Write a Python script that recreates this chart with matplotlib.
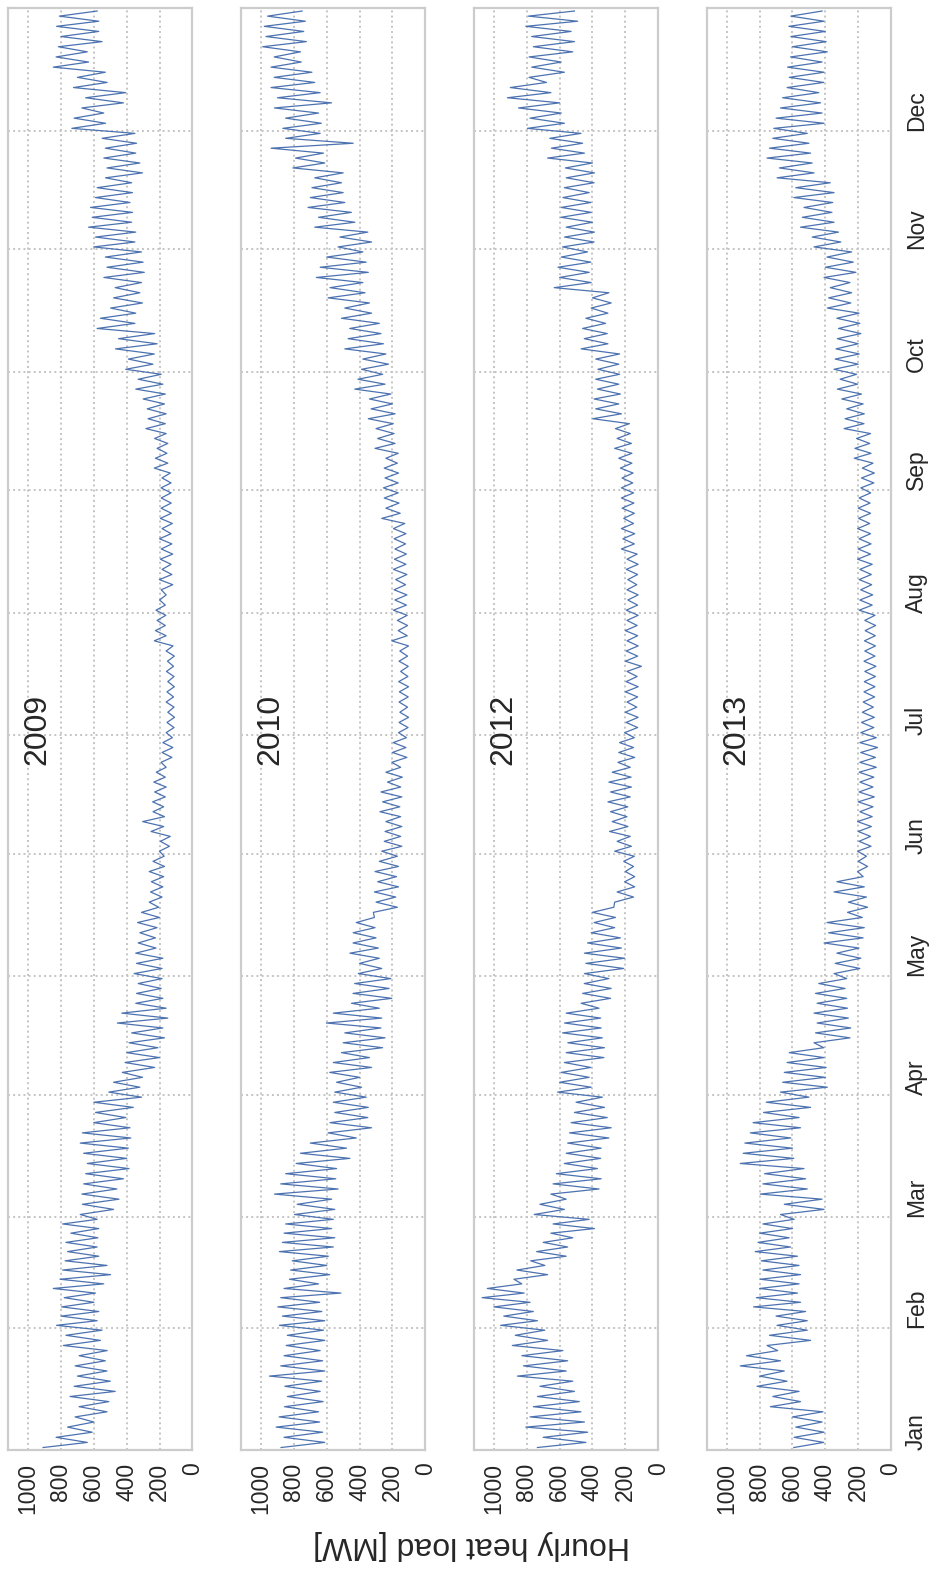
import numpy as np
import matplotlib.pyplot as plt

plt.rcParams['font.family'] = ['Liberation Sans', 'DejaVu Sans']
plt.rcParams['text.color'] = '#262626'

years = ['2009', '2010', '2012', '2013']
month_names = ['Jan', 'Feb', 'Mar', 'Apr', 'May', 'Jun',
               'Jul', 'Aug', 'Sep', 'Oct', 'Nov', 'Dec']
month_days = [31, 28, 31, 30, 31, 30, 31, 31, 30, 31, 30, 31]
load_ticks = [0, 200, 400, 600, 800, 1000]

# heat load, 24 values per month (alternating peak / trough)
load_2009 = [
    909, 640, 830, 610, 760, 600, 714, 520, 690, 509, 745, 470, 720, 500, 700, 520, 714, 530, 690, 519, 786, 560, 770, 550,
    827, 580, 800, 570, 796, 600, 780, 590, 847, 540, 806, 498, 790, 520, 775, 570, 760, 580, 770, 575, 740, 570, 790, 580,
    683, 480, 670, 447, 673, 460, 662, 420, 650, 386, 640, 400, 662, 390, 683, 375, 670, 380, 601, 406, 590, 360, 600, 310,
    509, 320, 480, 304, 427, 230, 410, 201, 400, 210, 386, 170, 370, 180, 457, 150, 430, 160, 345, 180, 340, 190, 330, 185,
    355, 185, 340, 180, 345, 222, 330, 225, 320, 215, 334, 201, 310, 205, 263, 185, 255, 180, 250, 175, 263, 170, 240, 172,
    201, 140, 195, 135, 252, 175, 303, 170, 240, 175, 242, 165, 230, 160, 235, 165, 220, 160, 191, 125, 185, 119, 180, 122,
    160, 112, 155, 109, 150, 112, 160, 115, 155, 110, 150, 112, 158, 115, 152, 110, 160, 118, 232, 160, 225, 165, 215, 162,
    222, 165, 200, 160, 190, 120, 201, 125, 185, 130, 195, 120, 190, 125, 200, 130, 185, 122, 195, 128, 191, 129, 190, 130,
    191, 130, 185, 135, 232, 150, 225, 155, 215, 150, 230, 160, 283, 165, 270, 160, 275, 170, 300, 165, 345, 180, 330, 190,
    406, 240, 390, 232, 468, 215, 450, 230, 580, 350, 560, 345, 498, 304, 480, 320, 470, 310, 539, 293, 520, 300, 530, 310,
    601, 350, 590, 345, 632, 370, 610, 365, 620, 380, 590, 365, 580, 370, 529, 304, 520, 320, 539, 345, 530, 340, 550, 350,
    734, 529, 720, 540, 673, 420, 650, 406, 724, 519, 700, 530, 847, 632, 830, 640, 816, 550, 800, 570, 827, 570, 810, 580,
]
load_2010 = [
    878, 612, 860, 625, 908, 643, 890, 650, 857, 622, 840, 640, 855, 630, 949, 612, 880, 625, 860, 640, 847, 612, 840, 620,
    888, 612, 870, 630, 898, 643, 880, 514, 860, 650, 827, 582, 820, 600, 810, 590, 888, 560, 870, 551, 860, 570, 850, 560,
    796, 551, 780, 570, 918, 531, 880, 545, 850, 540, 786, 459, 760, 480, 700, 420, 592, 327, 580, 350, 551, 347, 560, 360,
    551, 388, 540, 400, 582, 327, 560, 340, 510, 260, 500, 245, 490, 270, 602, 265, 560, 280, 449, 204, 440, 220, 430, 210,
    408, 265, 400, 280, 459, 286, 440, 300, 439, 306, 420, 310, 316, 170, 300, 180, 310, 163, 290, 175, 306, 163, 280, 170,
    265, 143, 250, 150, 245, 143, 240, 150, 276, 155, 260, 143, 270, 150, 230, 140, 240, 150, 204, 112, 200, 118, 195, 115,
    163, 105, 160, 102, 155, 108, 160, 104, 158, 102, 162, 106, 150, 104, 160, 108, 155, 102, 204, 110, 165, 108, 170, 110,
    194, 115, 185, 112, 190, 120, 180, 112, 194, 118, 188, 115, 185, 120, 190, 118, 194, 125, 265, 153, 240, 160, 250, 165,
    255, 165, 245, 163, 250, 170, 240, 165, 306, 184, 290, 190, 300, 195, 347, 184, 330, 200, 340, 210, 429, 245, 410, 260,
    388, 224, 380, 240, 490, 255, 470, 270, 460, 280, 510, 327, 490, 340, 592, 367, 580, 380, 663, 347, 640, 360, 600, 380,
    531, 327, 520, 350, 673, 429, 650, 450, 714, 490, 700, 500, 690, 510, 673, 500, 806, 612, 790, 620, 939, 439, 850, 640,
    867, 633, 850, 650, 918, 571, 900, 640, 939, 673, 920, 690, 939, 755, 920, 760, 990, 724, 970, 740, 980, 730, 960, 750,
]
load_2012 = [
    735, 440, 700, 429, 806, 449, 780, 470, 760, 480, 735, 510, 720, 520, 857, 560, 820, 551, 830, 580, 888, 673, 870, 690,
    959, 735, 940, 760, 1000, 780, 1072, 816, 1040, 830, 878, 673, 860, 690, 776, 560, 740, 551, 700, 520, 653, 388, 640, 420,
    755, 571, 720, 560, 653, 360, 640, 347, 620, 370, 571, 350, 560, 347, 551, 300, 540, 286, 530, 310, 510, 327, 500, 340,
    612, 408, 600, 420, 590, 410, 571, 330, 560, 327, 550, 340, 582, 347, 570, 350, 560, 360, 469, 290, 460, 286, 450, 300,
    449, 210, 440, 204, 449, 224, 430, 230, 408, 265, 390, 260, 400, 270, 265, 150, 250, 143, 204, 143, 200, 150, 210, 145,
    265, 163, 250, 170, 296, 184, 280, 190, 290, 185, 306, 170, 290, 163, 300, 165, 280, 170, 245, 143, 240, 150, 235, 145,
    204, 125, 195, 122, 200, 130, 190, 125, 200, 122, 195, 128, 190, 102, 200, 125, 195, 122, 190, 125, 200, 128, 190, 122,
    194, 125, 185, 122, 190, 130, 185, 125, 194, 122, 190, 128, 224, 145, 215, 143, 224, 150, 210, 145, 220, 148, 224, 150,
    224, 155, 220, 153, 230, 160, 240, 160, 265, 163, 250, 170, 260, 175, 398, 224, 380, 240, 390, 230, 370, 240, 380, 235,
    367, 240, 380, 235, 469, 306, 450, 310, 460, 320, 440, 306, 408, 286, 400, 300, 633, 408, 600, 420, 610, 410, 590, 430,
    582, 390, 570, 388, 560, 400, 592, 408, 590, 410, 580, 420, 571, 390, 560, 388, 565, 400, 673, 449, 650, 460, 660, 470,
    796, 571, 780, 590, 850, 600, 918, 653, 900, 680, 786, 571, 770, 590, 786, 520, 760, 510, 770, 530, 806, 490, 790, 510,
]
load_2013 = [
    592, 410, 590, 408, 580, 420, 600, 415, 735, 551, 720, 560, 816, 633, 800, 650, 918, 673, 880, 690, 755, 490, 740, 510,
    694, 510, 700, 520, 837, 551, 820, 570, 800, 560, 796, 551, 780, 560, 790, 570, 827, 612, 810, 620, 800, 600, 780, 590,
    673, 408, 650, 420, 796, 510, 780, 520, 770, 530, 918, 592, 900, 600, 890, 610, 857, 551, 840, 560, 776, 490, 760, 500,
    673, 388, 660, 400, 650, 395, 633, 408, 620, 410, 469, 250, 460, 245, 450, 260, 469, 265, 450, 270, 460, 280, 440, 270,
    347, 190, 340, 184, 330, 195, 408, 170, 380, 163, 390, 175, 265, 143, 260, 150, 347, 163, 330, 170, 204, 143, 200, 150,
    204, 122, 195, 125, 200, 120, 204, 115, 190, 110, 200, 102, 195, 110, 190, 105, 194, 90, 190, 95, 185, 82, 190, 90,
    184, 105, 180, 102, 175, 108, 170, 100, 165, 98, 163, 95, 160, 92, 165, 98, 160, 95, 162, 96, 158, 94, 160, 98,
    194, 115, 190, 112, 185, 118, 194, 120, 190, 115, 204, 125, 200, 122, 195, 125, 204, 130, 198, 125, 200, 128, 195, 124,
    184, 105, 180, 102, 175, 110, 224, 122, 220, 130, 210, 125, 286, 165, 280, 163, 270, 170, 300, 180, 327, 204, 310, 210,
    347, 200, 340, 194, 335, 200, 327, 184, 320, 190, 330, 195, 388, 245, 380, 240, 370, 250, 408, 214, 400, 230, 390, 240,
    469, 306, 480, 320, 551, 347, 540, 360, 530, 355, 592, 347, 580, 370, 694, 469, 680, 480, 755, 490, 740, 500, 720, 510,
    714, 408, 700, 420, 673, 429, 660, 440, 633, 410, 620, 408, 630, 420, 612, 388, 600, 395, 610, 400, 622, 408, 610, 420,
]
loads = [load_2009, load_2010, load_2012, load_2013]

# day-of-year positions: month starts and sample times
month_start = np.concatenate([[0], np.cumsum(month_days)[:-1]])
per_month = 24
t = np.concatenate([month_start[m] + (np.arange(per_month) + 0.5) * month_days[m] / per_month
                    for m in range(12)])

fig, axes = plt.subplots(1, 4, figsize=(9.36, 15.69), dpi=100)
fig.subplots_adjust(left=0.009, right=0.952, bottom=0.0758, top=0.9946, wspace=0.2656)

for i, (ax, year, load) in enumerate(zip(axes, years, loads)):
    ax.plot(load, t, color='#4c72b0', lw=0.9)
    ax.set_xlim(1120, 0)
    ax.set_ylim(0, 365)

    ax.set_xticks(load_ticks)
    ax.set_xticklabels([str(v) for v in load_ticks], rotation=90)
    ax.tick_params(axis='x', length=0, pad=9, labelsize=16.5, colors='#262626')

    ax.set_yticks(month_start)
    ax.set_yticklabels(month_names)
    ax.tick_params(axis='y', length=0, labelleft=False, labelright=False)
    if i == 3:
        ax.tick_params(axis='y', labelright=True, pad=10,
                       labelsize=16.5, colors='#262626')
        for lab in ax.yaxis.get_majorticklabels():
            lab.set_rotation(90)
            lab.set_va('bottom')
            lab.set_ha('left')

    ax.grid(True, linestyle=':', color='#c4c4c4', lw=1.4)
    ax.set_axisbelow(True)
    for sp in ax.spines.values():
        sp.set_color('#cccccc')
        sp.set_linewidth(1.6)

    ax.text(0.158, 0.5, year, transform=ax.transAxes, rotation=90,
            ha='center', va='center', fontsize=23)

fig.text(0.504, 0.0153, 'Hourly heat load [MW]', rotation=180,
         ha='center', va='center', fontsize=23)

fig.savefig('out.png', dpi=100)
